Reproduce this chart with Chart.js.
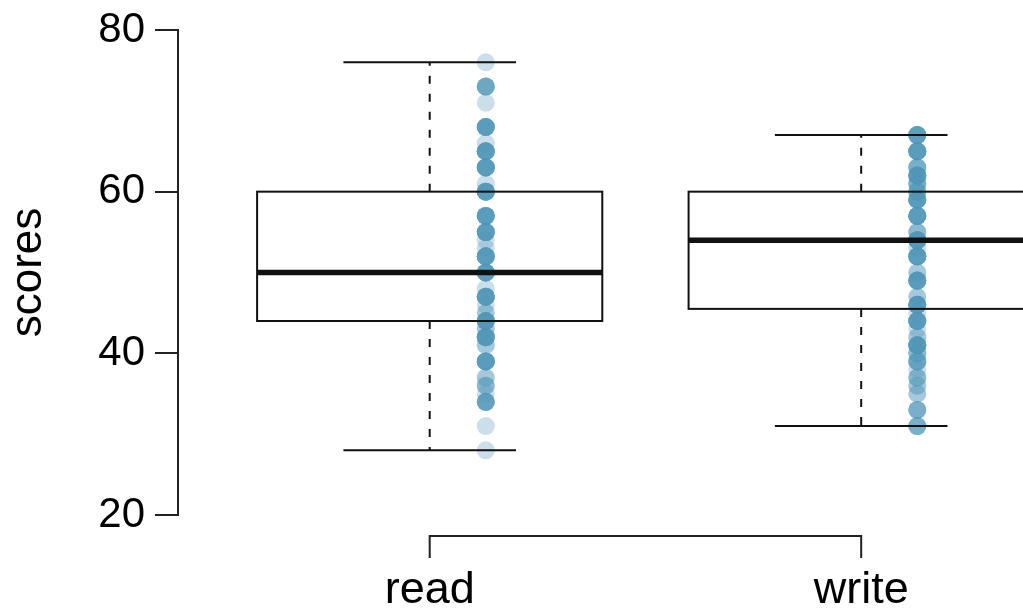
<!DOCTYPE html>
<html>
<head>
<meta charset="utf-8">
<title>read vs write scores</title>
<script src="https://cdn.jsdelivr.net/npm/chart.js"></script>
<style>
    body { margin: 0; background: #fff; }
    #wrap { width: 1023px; height: 608px; position: relative; }
</style>
</head>
<body>
<div id="wrap"><canvas id="scoresChart"></canvas></div>
<script>
// --- data ---
const groups = ['read', 'write'];

// summary of each box
const boxLow = [28, 31];
const boxQ1 = [44, 45.5];
const boxMedian = [50, 54];
const boxQ3 = [60, 60];
const boxHigh = [76, 67];

// individual scores (value + how many students share it)
const readValues = [28, 31, 34, 35, 36, 37, 39, 41, 42, 43, 44, 45, 46, 47, 48, 50, 52, 53, 54, 55, 57, 60, 61, 63, 65, 66, 68, 71, 73, 76];
const readCounts = [1, 1, 6, 1, 3, 2, 8, 2, 8, 2, 8, 2, 1, 8, 1, 8, 8, 1, 1, 8, 8, 8, 1, 8, 8, 1, 8, 1, 5, 1];
const writeValues = [31, 33, 35, 36, 37, 38, 39, 40, 41, 42, 43, 44, 45, 46, 47, 49, 50, 52, 53, 54, 55, 57, 59, 60, 61, 62, 63, 65, 67];
const writeCounts = [4, 4, 2, 2, 3, 1, 5, 3, 8, 2, 1, 8, 1, 8, 2, 8, 2, 8, 1, 8, 3, 8, 8, 4, 4, 8, 4, 8, 7];

const yTicks = [20, 40, 60, 80];

// expand value/count lists into scatter points beside each box
const dotOffset = 0.13;
function makePoints(values, counts, groupIndex) {
    const pts = [];
    values.forEach((v, i) => {
        for (let k = 0; k < counts[i]; k++) {
            pts.push({ x: groupIndex + 1 + dotOffset, y: v });
        }
    });
    return pts;
}

const FONT = '"Liberation Sans", Arial, Helvetica, sans-serif';
const INK = '#222';

// boxes and whiskers, drawn on top of the dots
const boxPlugin = {
    id: 'boxes',
    afterDatasetsDraw(chart) {
        const ctx = chart.ctx;
        const xs = chart.scales.x;
        const ys = chart.scales.y;
        ctx.save();
        ctx.strokeStyle = '#111';
        groups.forEach((g, i) => {
            const c = xs.getPixelForValue(i + 1);
            const left = xs.getPixelForValue(i + 1 - 0.4);
            const right = xs.getPixelForValue(i + 1 + 0.4);
            const capL = xs.getPixelForValue(i + 1 - 0.2);
            const capR = xs.getPixelForValue(i + 1 + 0.2);
            const yLow = ys.getPixelForValue(boxLow[i]);
            const yQ1 = ys.getPixelForValue(boxQ1[i]);
            const yMed = ys.getPixelForValue(boxMedian[i]);
            const yQ3 = ys.getPixelForValue(boxQ3[i]);
            const yHigh = ys.getPixelForValue(boxHigh[i]);

            // dashed whiskers
            ctx.lineWidth = 2;
            ctx.setLineDash([8, 10]);
            ctx.beginPath();
            ctx.moveTo(c, yQ3); ctx.lineTo(c, yHigh);
            ctx.moveTo(c, yQ1); ctx.lineTo(c, yLow);
            ctx.stroke();
            ctx.setLineDash([]);

            // caps
            ctx.beginPath();
            ctx.moveTo(capL, yHigh); ctx.lineTo(capR, yHigh);
            ctx.moveTo(capL, yLow); ctx.lineTo(capR, yLow);
            ctx.stroke();

            // box
            ctx.strokeRect(left, yQ3, right - left, yQ1 - yQ3);

            // median
            ctx.lineWidth = 5.5;
            ctx.beginPath();
            ctx.moveTo(left, yMed); ctx.lineTo(right, yMed);
            ctx.stroke();
        });
        ctx.restore();
    },
    // bracket style x axis with the group names
    afterDraw(chart) {
        const ctx = chart.ctx;
        const xs = chart.scales.x;
        const x1 = xs.getPixelForValue(1);
        const x2 = xs.getPixelForValue(groups.length);
        const top = chart.chartArea.bottom + 21;
        ctx.save();
        ctx.strokeStyle = INK;
        ctx.lineWidth = 2;
        ctx.beginPath();
        ctx.moveTo(x1, top + 22);
        ctx.lineTo(x1, top);
        ctx.lineTo(x2, top);
        ctx.lineTo(x2, top + 22);
        ctx.stroke();
        ctx.fillStyle = '#000';
        ctx.font = '45px ' + FONT;
        ctx.textAlign = 'center';
        ctx.textBaseline = 'alphabetic';
        groups.forEach((g, i) => {
            ctx.fillText(g, xs.getPixelForValue(i + 1), top + 67);
        });
        ctx.restore();
    }
};

const dotColor = 'rgba(78,150,182,0.3)';

new Chart(document.getElementById('scoresChart'), {
    type: 'scatter',
    data: {
        datasets: [
            { label: 'read', data: makePoints(readValues, readCounts, 0) },
            { label: 'write', data: makePoints(writeValues, writeCounts, 1) }
        ].map(d => Object.assign(d, {
            backgroundColor: dotColor,
            borderWidth: 0,
            pointRadius: 9,
            pointHoverRadius: 9,
            clip: false
        }))
    },
    options: {
        responsive: true,
        maintainAspectRatio: false,
        animation: false,
        layout: { padding: { top: 30, bottom: 93, left: 0, right: 0 } },
        plugins: {
            legend: { display: false },
            tooltip: { enabled: false }
        },
        scales: {
            x: {
                type: 'linear',
                display: false,
                min: 1 - 252 / 432,
                max: 1 - 252 / 432 + 837 / 432
            },
            y: {
                min: 20,
                max: 80,
                afterFit(scale) {
                    scale.width = 178;
                    scale.paddingTop = 0;
                    scale.paddingBottom = 0;
                },
                afterBuildTicks(scale) { scale.ticks = yTicks.map(v => ({ value: v })); },
                border: { display: true, color: INK, width: 2 },
                grid: { drawOnChartArea: false, drawTicks: true, tickLength: 23, color: INK, lineWidth: 2 },
                ticks: {
                    color: '#000',
                    padding: 10,
                    font: { family: FONT, size: 42 }
                },
                title: {
                    display: true,
                    text: 'scores',
                    color: '#000',
                    padding: { top: 2, bottom: 0 },
                    font: { family: FONT, size: 44 }
                }
            }
        }
    },
    plugins: [boxPlugin]
});
</script>
</body>
</html>
